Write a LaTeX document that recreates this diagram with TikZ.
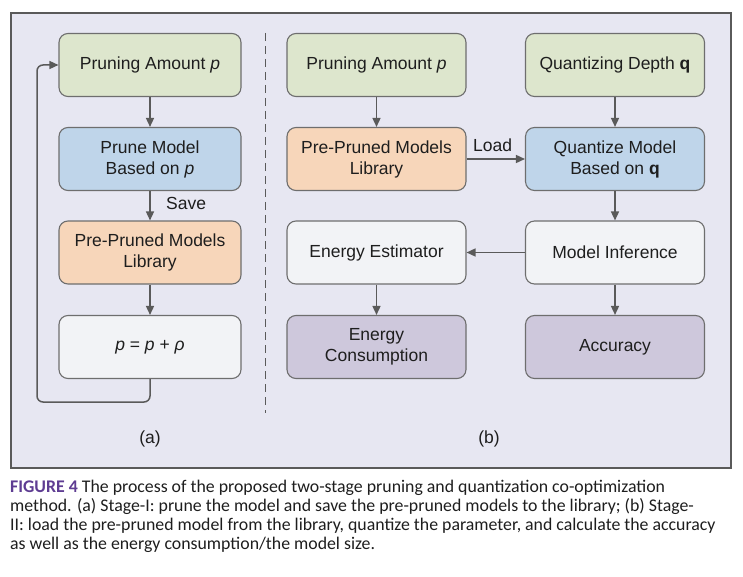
\documentclass[tikz,border=0pt]{standalone}
\usepackage{fontspec}
\setmainfont{Liberation Sans}
\newfontfamily\capfont{Carlito}
\usetikzlibrary{arrows.meta}
\definecolor{bgc}{RGB}{231,231,242}
\definecolor{greenc}{RGB}{221,230,205}
\definecolor{bluec}{RGB}{191,213,234}
\definecolor{orangec}{RGB}{247,214,186}
\definecolor{whitec}{RGB}{242,243,246}
\definecolor{purplec}{RGB}{206,200,220}
\definecolor{edgec}{RGB}{110,110,110}
\definecolor{arrc}{RGB}{90,90,90}
\definecolor{txtc}{RGB}{30,30,30}
\definecolor{figc}{RGB}{94,60,146}
\tikzset{
  boxa/.style={draw=edgec, line width=1.1pt, rounded corners=9pt, minimum width=182pt, minimum height=63pt, align=center, text=txtc, font=\fontsize{17.5}{21}\selectfont, inner sep=0pt},
  boxb/.style={boxa, minimum width=179pt},
  flow/.style={draw=arrc, line width=1.5pt, -{Triangle[length=9pt,width=8pt]}},
  lbl/.style={text=txtc, font=\fontsize{17.5}{21}\selectfont, inner sep=0pt},
  capl/.style={anchor=base west, inner sep=0pt, text=txtc, font=\capfont\fontsize{17.8}{19}\selectfont},
}
\begin{document}
\begin{tikzpicture}[x=1pt,y=-1pt]
\useasboundingbox (0,0) rectangle (743,577);
\fill[white] (0,0) rectangle (743,577);
\draw[fill=bgc, draw=arrc, line width=1.2pt] (11,13) rectangle (731,468);
% divider
\draw[draw=arrc, line width=1.2pt, dash pattern=on 8pt off 5pt] (265.5,33) -- (265.5,413);
% (a)
\node[boxa, fill=greenc] (a1) at (150,65) {Pruning Amount \textit{p}};
\node[boxa, fill=bluec] (a2) at (150,159) {Prune Model\\Based on \textit{p}};
\node[boxa, fill=orangec] (a3) at (150,252.5) {Pre-Pruned Models\\Library};
\node[boxa, fill=whitec] (a4) at (150,347) {\textit{p} = \textit{p} + \textit{ρ}};
\draw[flow] (a1) -- (a2);
\draw[flow] (a2) -- (a3);
\draw[flow] (a3) -- (a4);
\coordinate (la) at (150,402);
\coordinate (lb) at (37,402);
\coordinate (lc) at (37,65);
\draw[flow, rounded corners=6pt] (a4.south) -- (la) -- (lb) -- (lc) -- (a1.west);
\node[lbl, anchor=west] (save) at (166,203) {Save};
\node[lbl] (capa) at (150,439) {(a)};
% (b)
\node[boxb, fill=greenc] (b1) at (376.5,65) {Pruning Amount \textit{p}};
\node[boxb, fill=orangec] (b2) at (376.5,159) {Pre-Pruned Models\\Library};
\node[boxb, fill=whitec] (b3) at (376.5,252.5) {Energy Estimator};
\node[boxb, fill=purplec] (b4) at (376.5,347) {Energy\\Consumption};
\node[boxb, fill=greenc] (c1) at (615,65) {Quantizing Depth \textbf{q}};
\node[boxb, fill=bluec] (c2) at (615,159) {Quantize Model\\Based on \textbf{q}};
\node[boxb, fill=whitec] (c3) at (615,252.5) {Model Inference};
\node[boxb, fill=purplec] (c4) at (615,347) {Accuracy};
\draw[flow] (b1) -- (b2);
\draw[flow] (b2) -- (c2);
\draw[flow] (c1) -- (c2);
\draw[flow] (c2) -- (c3);
\draw[flow] (c3) -- (b3);
\draw[flow] (b3) -- (b4);
\draw[flow] (c3) -- (c4);
\node[lbl, anchor=west] (load) at (473,145) {Load};
\node[lbl] (capb) at (489,439) {(b)};
% caption
\node[capl] (cap1) at (10,492) {\textcolor{figc}{\textbf{FIGURE 4}} The process of the proposed two-stage pruning and quantization co-optimization};
\node[capl] (cap2) at (10,511.3) {method. (a) Stage-I: prune the model and save the pre-pruned models to the library; (b) Stage-};
\node[capl] (cap3) at (10,530.6) {II: load the pre-pruned model from the library, quantize the parameter, and calculate the accuracy};
\node[capl] (cap4) at (10,549.9) {as well as the energy consumption/the model size.};
\end{tikzpicture}
\end{document}
